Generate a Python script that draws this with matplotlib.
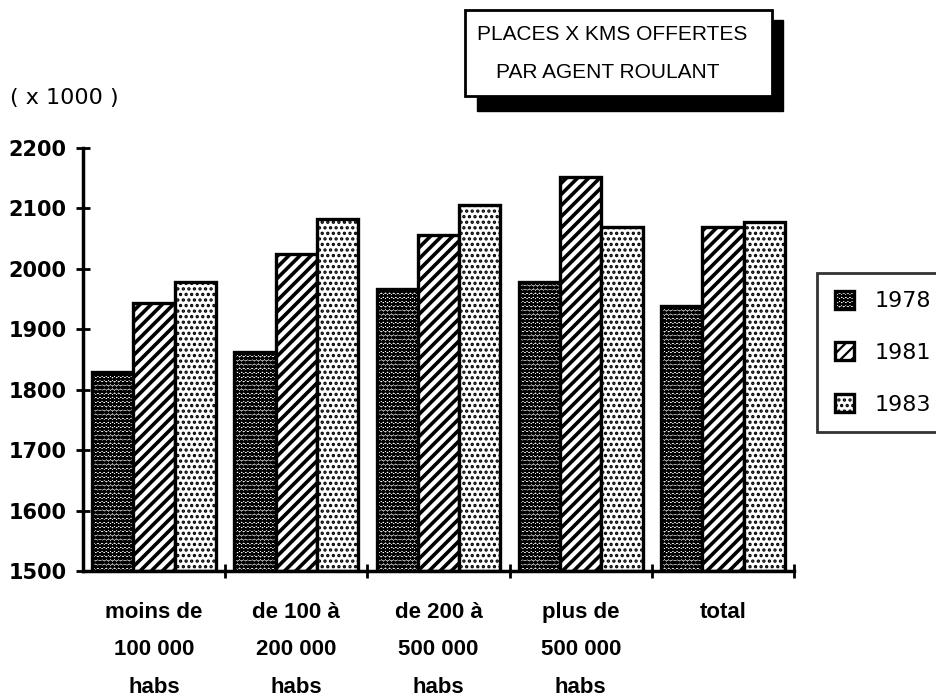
import matplotlib
matplotlib.use("Agg")
import matplotlib.pyplot as plt
from matplotlib.patches import Rectangle
import numpy as np

categories = ["moins de\n100 000\nhabs", "de 100 à\n200 000\nhabs", "de 200 à\n500 000\nhabs",
              "plus de\n500 000\nhabs", "total\n\n"]
years = ["1978", "1981", "1983"]
v1978 = [1830, 1862, 1966, 1978, 1938]
v1981 = [1943, 2025, 2056, 2152, 2070]
v1983 = [1979, 2083, 2106, 2070, 2078]
yticks = [1500, 1600, 1700, 1800, 1900, 2000, 2100, 2200]

plt.rcParams['font.family'] = ['Liberation Sans', 'DejaVu Sans']
plt.rcParams['font.weight'] = 'bold'
plt.rcParams['hatch.linewidth'] = 1.6

W, H = 937, 698
fig = plt.figure(figsize=(W / 100, H / 100), dpi=100)
ax = fig.add_axes([83 / W, 1 - 571 / H, (794 - 83) / W, (571 - 148) / H])

x = np.arange(len(categories)) + 0.5
bw = 0.29
styles = [dict(hatch='oooo'), dict(hatch='///'), dict(hatch='...')]
hlw = [1.6, 2.6, 1.6]
series = [v1978, v1981, v1983]
handles = []
for i, (vals, st) in enumerate(zip(series, styles)):
    b = ax.bar(x + (i - 1) * bw, np.array(vals) - 1500, bottom=1500, width=bw,
               facecolor='white', edgecolor='black', linewidth=2.4, label=years[i], **st)
    for p in b:
        if hasattr(p, 'set_hatch_linewidth'):
            p.set_hatch_linewidth(hlw[i])
    handles.append(b)

ax.set_xlim(0, 5)
ax.set_ylim(1500, 2200)
ax.set_yticks(yticks)
ax.set_yticklabels([str(t) for t in yticks], fontsize=15, family=['DejaVu Sans'])
ax.set_xticks(x)
ax.set_xticklabels(categories, fontsize=16, linespacing=2.05, va='top')
ax.set_xticks(np.arange(1, 6), minor=True)
ax.tick_params(axis='x', which='major', length=0, pad=22)
ax.tick_params(axis='x', which='minor', direction='inout', length=10, width=2)
ax.tick_params(axis='y', direction='inout', length=10, width=2, pad=7)
for s in ['top', 'right']:
    ax.spines[s].set_visible(False)
for s in ['left', 'bottom']:
    ax.spines[s].set_linewidth(2.5)

leg = ax.legend(handles=handles, labels=years, loc='upper left',
                bbox_to_anchor=(817 / W, 1 - 273 / H), bbox_transform=fig.transFigure,
                prop=dict(family=['DejaVu Sans'], size=16, weight='normal'),
                frameon=True, fancybox=False, handlelength=0.85,
                handleheight=0.85, labelspacing=1.4, handletextpad=0.95,
                borderpad=0.8, borderaxespad=0)
leg.get_frame().set_edgecolor('black')
leg.get_frame().set_linewidth(2)
leg.set_zorder(5)

fig.text(10 / W, 1 - 98 / H, "( x 1000 )", fontsize=16, va='center', ha='left',
         family=['DejaVu Sans'], weight='normal')

# title box with shadow
fig.patches.append(Rectangle((477 / W, 1 - 111 / H), (783 - 477) / W, (111 - 20) / H,
                             transform=fig.transFigure, facecolor='black', edgecolor='black'))
fig.patches.append(Rectangle((465 / W, 1 - 96 / H), (772 - 465) / W, (96 - 10) / H,
                             transform=fig.transFigure, facecolor='white', edgecolor='black',
                             linewidth=2))
fig.text(612 / W, 1 - 34 / H, "PLACES X KMS OFFERTES", fontsize=15, ha='center', va='center',
         weight='normal')
fig.text(608 / W, 1 - 73 / H, "PAR AGENT ROULANT", fontsize=15, ha='center', va='center',
         weight='normal')

fig.savefig("out.png", dpi=100)
